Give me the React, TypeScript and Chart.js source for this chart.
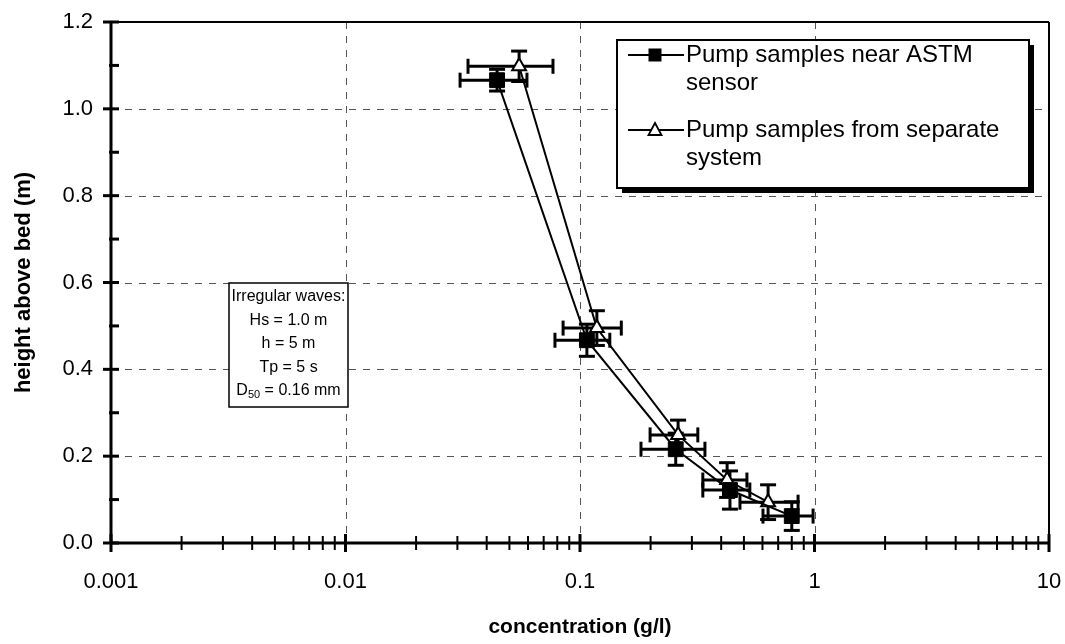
import React, { useEffect, useRef } from "react";
import { Chart, registerables } from "chart.js";

Chart.register(...registerables);

// ---------- data ----------
const X_TICKS = [0.001, 0.01, 0.1, 1, 10];
const X_TICK_LABELS = ["0.001", "0.01", "0.1", "1", "10"];
const Y_TICKS = [0, 0.2, 0.4, 0.6, 0.8, 1.0, 1.2];
const Y_TICK_LABELS = ["0.0", "0.2", "0.4", "0.6", "0.8", "1.0", "1.2"];

const SERIES_NAMES = [
  ["Pump samples near ASTM", "sensor"],
  ["Pump samples from separate", "system"],
];

// Pump samples near ASTM sensor (filled squares)
const ASTM_CONC = [0.0443, 0.107, 0.256, 0.436, 0.8];
const ASTM_HEIGHT = [1.066, 0.467, 0.216, 0.122, 0.062];
const ASTM_CONC_LO = [0.0308, 0.0782, 0.182, 0.334, 0.603];
const ASTM_CONC_HI = [0.0594, 0.134, 0.341, 0.53, 0.986];
const ASTM_HEIGHT_ERR = [0.025, 0.037, 0.037, 0.044, 0.033];

// Pump samples from separate system (open triangles)
const SEP_CONC = [0.055, 0.118, 0.262, 0.424, 0.634];
const SEP_HEIGHT = [1.098, 0.495, 0.249, 0.145, 0.094];
const SEP_CONC_LO = [0.0333, 0.0847, 0.199, 0.334, 0.481];
const SEP_CONC_HI = [0.0767, 0.15, 0.318, 0.515, 0.851];
const SEP_HEIGHT_ERR = [0.035, 0.04, 0.034, 0.04, 0.04];

const INFO_LINES = ["Irregular waves:", "Hs = 1.0 m", "h = 5 m", "Tp = 5 s"];
const INFO_D50 = { main: "D", sub: "50", rest: " = 0.16 mm" };

const FONT = "'Liberation Sans', Arial, sans-serif";

const ERROR_SETS = [
  { x: ASTM_CONC, y: ASTM_HEIGHT, lo: ASTM_CONC_LO, hi: ASTM_CONC_HI, ey: ASTM_HEIGHT_ERR },
  { x: SEP_CONC, y: SEP_HEIGHT, lo: SEP_CONC_LO, hi: SEP_CONC_HI, ey: SEP_HEIGHT_ERR },
];

function line(ctx: CanvasRenderingContext2D, x1: number, y1: number, x2: number, y2: number) {
  ctx.beginPath();
  ctx.moveTo(x1, y1);
  ctx.lineTo(x2, y2);
  ctx.stroke();
}

const framePlugin = {
  id: "frame",
  beforeDatasetsDraw(chart: any) {
    const { ctx, chartArea, scales } = chart;
    const { left, right, top, bottom } = chartArea;
    const xs = scales.x;
    const ys = scales.y;
    ctx.save();

    // dashed grid lines
    ctx.strokeStyle = "#555";
    ctx.lineWidth = 1;
    ctx.setLineDash([7, 7]);
    X_TICKS.slice(1, -1).forEach((v) => {
      const px = Math.round(xs.getPixelForValue(v)) + 0.5;
      line(ctx, px, top, px, bottom);
    });
    Y_TICKS.slice(1, -1).forEach((v) => {
      const py = Math.round(ys.getPixelForValue(v)) + 0.5;
      line(ctx, left, py, right, py);
    });
    ctx.setLineDash([]);

    // info box
    const bx = 229, by = 283, bw = 119, bh = 124;
    ctx.fillStyle = "#fff";
    ctx.fillRect(bx, by, bw, bh);
    ctx.strokeStyle = "#000";
    ctx.lineWidth = 1.5;
    ctx.strokeRect(bx, by, bw, bh);
    ctx.fillStyle = "#000";
    ctx.font = `16px ${FONT}`;
    ctx.textAlign = "center";
    ctx.textBaseline = "middle";
    const cx = bx + bw / 2;
    INFO_LINES.forEach((t, i) => ctx.fillText(t, cx, by + 14 + i * 23.5));
    {
      const yy = by + 14 + 4 * 23.5;
      ctx.font = `16px ${FONT}`;
      const w1 = ctx.measureText(INFO_D50.main).width;
      const w3 = ctx.measureText(INFO_D50.rest).width;
      ctx.font = `11px ${FONT}`;
      const w2 = ctx.measureText(INFO_D50.sub).width;
      let sx = cx - (w1 + w2 + w3) / 2;
      ctx.textAlign = "left";
      ctx.font = `16px ${FONT}`;
      ctx.fillText(INFO_D50.main, sx, yy);
      sx += w1;
      ctx.font = `11px ${FONT}`;
      ctx.fillText(INFO_D50.sub, sx, yy + 4);
      sx += w2;
      ctx.font = `16px ${FONT}`;
      ctx.fillText(INFO_D50.rest, sx, yy);
    }

    // frame
    ctx.strokeStyle = "#000";
    ctx.lineWidth = 2;
    line(ctx, left, top, right, top);
    line(ctx, right, top, right, bottom);
    ctx.lineWidth = 3;
    line(ctx, left, top - 1, left, bottom);
    line(ctx, left - 1, bottom, right, bottom);

    // x ticks (major + minor)
    for (let d = 0; d < X_TICKS.length; d++) {
      const base = X_TICKS[d];
      const px = xs.getPixelForValue(base);
      ctx.lineWidth = 3;
      line(ctx, px, bottom - 9, px, bottom + 9);
      if (d < X_TICKS.length - 1) {
        ctx.lineWidth = 2;
        for (let m = 2; m <= 9; m++) {
          const mp = xs.getPixelForValue(base * m);
          line(ctx, mp, bottom - 7, mp, bottom + 7);
        }
      }
    }
    // y ticks
    Y_TICKS.forEach((v, i) => {
      const py = ys.getPixelForValue(v);
      ctx.lineWidth = 3;
      line(ctx, left - 8, py, left + 8, py);
      if (i < Y_TICKS.length - 1) {
        const mp = ys.getPixelForValue((v + Y_TICKS[i + 1]) / 2);
        line(ctx, left - 2, mp, left + 8, mp);
      }
    });

    // error bars
    ctx.strokeStyle = "#000";
    ctx.lineWidth = 3;
    ERROR_SETS.forEach((s) => {
      s.x.forEach((xv, i) => {
        const px = xs.getPixelForValue(xv);
        const py = ys.getPixelForValue(s.y[i]);
        const pl = xs.getPixelForValue(s.lo[i]);
        const ph = xs.getPixelForValue(s.hi[i]);
        const pt = ys.getPixelForValue(s.y[i] + s.ey[i]);
        const pb = ys.getPixelForValue(s.y[i] - s.ey[i]);
        line(ctx, pl, py, ph, py);
        line(ctx, pl, py - 7.5, pl, py + 7.5);
        line(ctx, ph, py - 7.5, ph, py + 7.5);
        line(ctx, px, pt, px, pb);
        line(ctx, px - 8, pt, px + 8, pt);
        line(ctx, px - 8, pb, px + 8, pb);
      });
    });
    ctx.restore();
  },
  afterDatasetsDraw(chart: any) {
    const { ctx } = chart;
    ctx.save();
    const L = 617, T = 40, R = 1029, B = 188;
    ctx.fillStyle = "#000";
    ctx.fillRect(L + 5, T + 5, R - L, B - T);
    ctx.fillStyle = "#fff";
    ctx.fillRect(L, T, R - L, B - T);
    ctx.strokeStyle = "#000";
    ctx.lineWidth = 2;
    ctx.strokeRect(L, T, R - L, B - T);

    const rows = [55, 130];
    ctx.font = `24px ${FONT}`;
    ctx.textAlign = "left";
    ctx.textBaseline = "middle";
    rows.forEach((ry, k) => {
      ctx.strokeStyle = "#000";
      ctx.lineWidth = 2;
      line(ctx, 628, ry, 684, ry);
      const mx = 655;
      if (k === 0) {
        ctx.fillStyle = "#000";
        ctx.fillRect(mx - 6.5, ry - 6.5, 13, 13);
      } else {
        ctx.fillStyle = "#fff";
        ctx.lineWidth = 1.8;
        ctx.beginPath();
        ctx.moveTo(mx, ry - 7);
        ctx.lineTo(mx + 6.5, ry + 5);
        ctx.lineTo(mx - 6.5, ry + 5);
        ctx.closePath();
        ctx.fill();
        ctx.stroke();
      }
      ctx.fillStyle = "#000";
      ctx.fillText(SERIES_NAMES[k][0], 686, ry);
      ctx.fillText(SERIES_NAMES[k][1], 686, ry + 28);
    });
    ctx.restore();
  },
};

export default function App() {
  const ref = useRef<HTMLCanvasElement | null>(null);

  useEffect(() => {
    if (!ref.current) return;
    const tickFont = { family: FONT, size: 22 };
    const titleFontX = { family: FONT, size: 21, weight: "bold" as const };
    const titleFontY = { family: FONT, size: 22, weight: "bold" as const };

    const chart = new Chart(ref.current, {
      type: "scatter",
      data: {
        datasets: [
          {
            label: SERIES_NAMES[0].join(" "),
            data: ASTM_CONC.map((x, i) => ({ x, y: ASTM_HEIGHT[i] })),
            showLine: true,
            borderColor: "#000",
            borderWidth: 2,
            pointStyle: "rect",
            pointRadius: 10.5,
            pointBackgroundColor: "#000",
            pointBorderColor: "#000",
            pointBorderWidth: 1,
          },
          {
            label: SERIES_NAMES[1].join(" "),
            data: SEP_CONC.map((x, i) => ({ x, y: SEP_HEIGHT[i] })),
            showLine: true,
            borderColor: "#000",
            borderWidth: 2,
            pointStyle: "triangle",
            pointRadius: 8,
            pointBackgroundColor: "#fff",
            pointBorderColor: "#000",
            pointBorderWidth: 2,
          },
        ],
      },
      options: {
        responsive: false,
        animation: false,
        devicePixelRatio: 1,
        layout: { padding: { left: 0, right: 16, top: 22, bottom: 0 } },
        plugins: { legend: { display: false }, tooltip: { enabled: false } },
        scales: {
          x: {
            type: "logarithmic",
            min: 0.001,
            max: 10,
            afterBuildTicks: (s: any) => {
              s.ticks = X_TICKS.map((v) => ({ value: v }));
            },
            afterFit: (s: any) => {
              s.height = 101;
              s.paddingLeft = 0;
              s.paddingRight = 0;
            },
            ticks: {
              callback: (_v: any, i: number) => X_TICK_LABELS[i],
              font: tickFont,
              color: "#000",
              padding: 26,
              maxRotation: 0,
              autoSkip: false,
            },
            grid: { display: false, drawTicks: false },
            border: { display: false },
            title: {
              display: true,
              text: "concentration (g/l)",
              font: titleFontX,
              color: "#000",
              padding: { top: 0, bottom: 4 },
            },
          },
          y: {
            type: "linear",
            min: 0,
            max: 1.2,
            afterBuildTicks: (s: any) => {
              s.ticks = Y_TICKS.map((v) => ({ value: v }));
            },
            afterFit: (s: any) => {
              s.width = 111;
              s.paddingTop = 0;
              s.paddingBottom = 0;
            },
            ticks: {
              callback: (_v: any, i: number) => Y_TICK_LABELS[i],
              font: tickFont,
              color: "#000",
              padding: 18,
              autoSkip: false,
            },
            grid: { display: false, drawTicks: false },
            border: { display: false },
            title: {
              display: true,
              text: "height above bed (m)",
              font: titleFontY,
              color: "#000",
              padding: { top: 11, bottom: 0 },
            },
          },
        },
      },
      plugins: [framePlugin],
    });
    return () => chart.destroy();
  }, []);

  return (
    <div style={{ position: "fixed", left: 0, top: 0, width: 1065, height: 644, background: "#fff" }}>
      <canvas ref={ref} width={1065} height={644} style={{ display: "block" }} />
    </div>
  );
}
